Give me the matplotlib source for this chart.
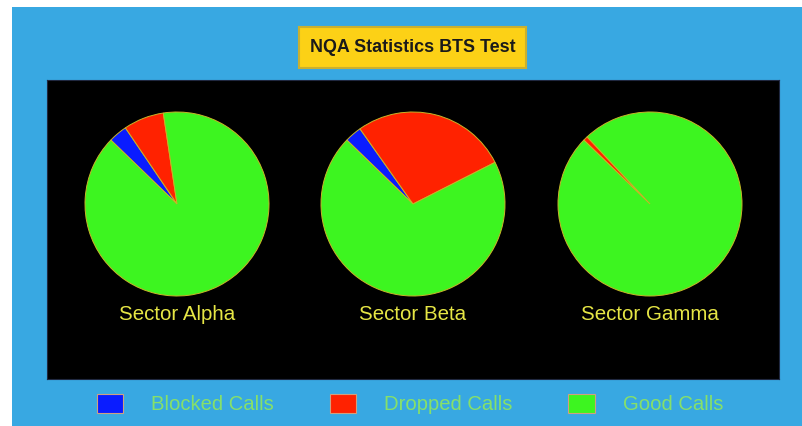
import matplotlib.pyplot as plt
from matplotlib.patches import Rectangle, Patch

# data (percent of calls per sector)
sectors = ["Sector Alpha", "Sector Beta", "Sector Gamma"]
categories = ["Blocked Calls", "Dropped Calls", "Good Calls"]
blocked = [3.3, 3.0, 0.0]
dropped = [7.1, 27.3, 0.8]
good = [89.6, 69.7, 99.2]

colors = ["#0a1cff", "#ff2200", "#3df520"]
W, H = 803, 426

fig = plt.figure(figsize=(W / 100, H / 100), dpi=100, facecolor="white")
plt.rcParams["font.family"] = ["Liberation Sans", "DejaVu Sans"]

# blue background panel
fig.add_artist(Rectangle((12 / W, 0), (W - 12) / W, (H - 7) / H,
                         transform=fig.transFigure, facecolor="#38a8e2", edgecolor="none", zorder=0))

# title box
fig.add_artist(Rectangle((299 / W, 1 - 68 / H), 227 / W, 41 / H, transform=fig.transFigure,
                         facecolor="#fcd116", edgecolor="#c9b030", linewidth=1.5, zorder=1))
fig.text(413 / W, 1 - 47.5 / H, "NQA Statistics BTS Test", ha="center", va="center",
         fontsize=12.9, fontweight="bold", color="#1a1a1a", zorder=2)

# black plotting area, pixel-like data coordinates
ax = fig.add_axes([47 / W, (H - 379) / H, 732 / W, 299 / H])
centers = [177, 413, 650]
for i, name in enumerate(sectors):
    vals = [blocked[i], dropped[i], good[i]]
    ax.pie(vals, colors=colors, startangle=136, counterclock=False,
           center=(centers[i], 379 - 204), radius=92,
           wedgeprops=dict(edgecolor="#c8b428", linewidth=0.7))
    ax.text(centers[i], 379 - 315, name, ha="center", va="center",
            fontsize=14.8, color="#e6e645")

ax.set_frame_on(True)
ax.set_facecolor("black")
ax.set_xlim(47, 779)
ax.set_ylim(0, 299)
ax.set_aspect("auto")
ax.set_xticks([])
ax.set_yticks([])
for s in ax.spines.values():
    s.set_color("#202840")

# legend
handles = [Patch(facecolor=c, edgecolor="#d0a080", linewidth=0.8) for c in colors]
leg = fig.legend(handles, categories, loc="center", bbox_to_anchor=(410 / W, 1 - 404 / H),
                 ncol=3, frameon=False, fontsize=14.6, handlelength=1.3, handleheight=1.05,
                 handletextpad=1.38, columnspacing=2.75, borderpad=0)
for t in leg.get_texts():
    t.set_color("#86e06a")

fig.savefig("out.png", dpi=100, facecolor="white")
